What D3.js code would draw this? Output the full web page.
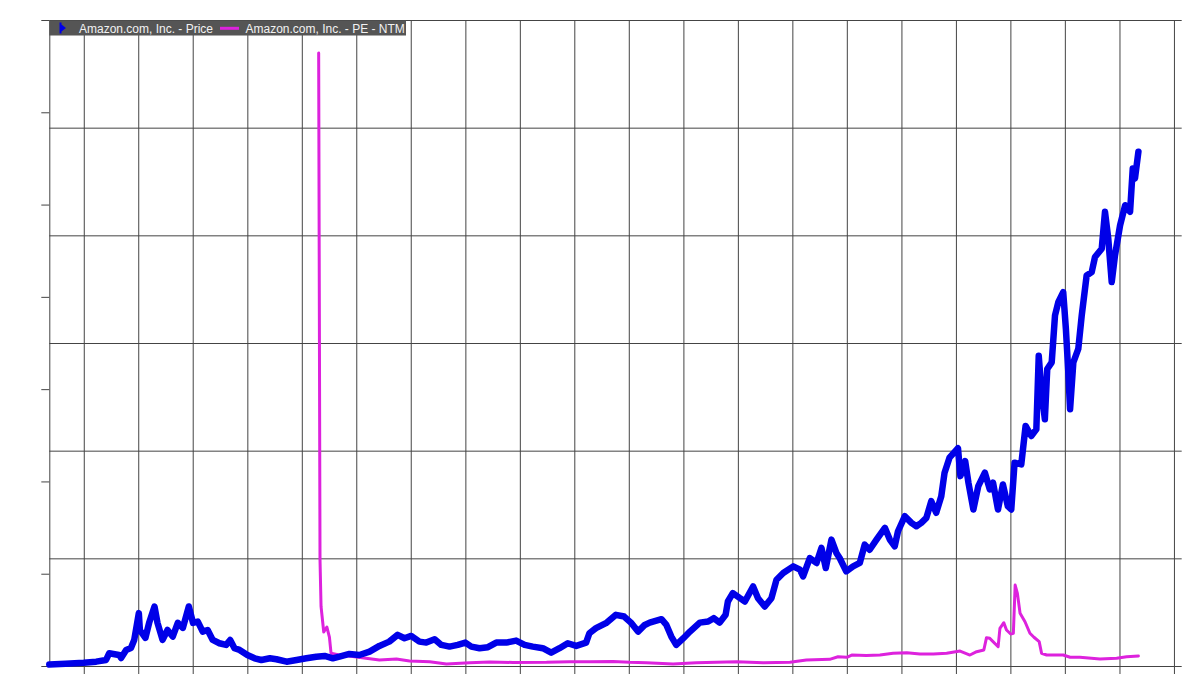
<!DOCTYPE html>
<html>
<head>
<meta charset="utf-8">
<script src="https://cdn.jsdelivr.net/npm/d3@7/dist/d3.min.js"></script>
<style>
  body { margin: 0; background: #fff; }
  svg { display: block; }
</style>
</head>
<body>
<script>
// values
var seriesNames = ["Amazon.com, Inc. - Price", "Amazon.com, Inc. - PE - NTM"];

var priceSeries = [
  ["1997-05-15", 3.3], ["1997-09-01", 5], ["1998-01-01", 7], ["1998-03-25", 9.4], ["1998-05-30", 13],
  ["1998-06-20", 27.6], ["1998-08-25", 24], ["1998-09-08", 17.4], ["1998-10-12", 34.8], ["1998-11-13", 39],
  ["1998-12-05", 56.5], ["1999-01-05", 114.6], ["1999-01-12", 78], ["1999-02-18", 61], ["1999-03-15", 93.5],
  ["1999-04-20", 129], ["1999-05-10", 93.5], ["1999-06-13", 56.5], ["1999-07-16", 78], ["1999-08-20", 63.7],
  ["1999-09-23", 93.5], ["1999-10-27", 82.6], ["1999-12-06", 129], ["2000-01-03", 93.5], ["2000-02-04", 96.3],
  ["2000-03-08", 74.6], ["2000-04-10", 78], ["2000-05-14", 56.5], ["2000-06-28", 49.3], ["2000-08-12", 45.7],
  ["2000-09-08", 56.5], ["2000-10-07", 38.5], ["2000-11-10", 34.8], ["2001-01-01", 23.9], ["2001-02-19", 16.7],
  ["2001-04-05", 13], ["2001-06-01", 16.7], ["2001-07-15", 14.6], ["2001-09-21", 9.3], ["2001-11-27", 13],
  ["2002-02-01", 16.7], ["2002-04-08", 20.2], ["2002-06-03", 21.7], ["2002-07-28", 16.7], ["2002-09-10", 20.2],
  ["2002-11-16", 26.1], ["2003-01-22", 23.9], ["2003-03-31", 31.1], ["2003-06-05", 43.5], ["2003-08-10", 52.8],
  ["2003-10-05", 67.4], ["2003-11-20", 60.2], ["2004-01-04", 65.2], ["2004-02-28", 52.8], ["2004-04-14", 50.7],
  ["2004-06-09", 58], ["2004-07-24", 45.7], ["2004-09-17", 42], ["2004-11-11", 45.7], ["2005-01-01", 50.7],
  ["2005-02-10", 42], ["2005-04-06", 38.5], ["2005-06-01", 40.7], ["2005-07-27", 50.7], ["2005-10-02", 50.7],
  ["2005-12-07", 55], ["2006-02-02", 45.7], ["2006-03-29", 42], ["2006-06-04", 38.5], ["2006-07-30", 28.9],
  ["2006-09-24", 38.5], ["2006-11-18", 49.3], ["2007-01-14", 43.5], ["2007-03-21", 50.7], ["2007-04-12", 71],
  ["2007-05-26", 82], ["2007-08-01", 92.8], ["2007-10-07", 110.9], ["2007-12-01", 107.2], ["2008-01-19", 92.8],
  ["2008-03-03", 74.6], ["2008-04-17", 89], ["2008-05-20", 94], ["2008-08-07", 101.5], ["2008-09-09", 89],
  ["2008-10-12", 63.7], ["2008-11-14", 45.7], ["2009-01-01", 60.2], ["2009-02-14", 74.6], ["2009-04-21", 94],
  ["2009-06-16", 96.3], ["2009-07-23", 103.7], ["2009-09-01", 94], ["2009-10-11", 110.9], ["2009-10-26", 139.8],
  ["2009-11-28", 158], ["2010-01-15", 147], ["2010-02-17", 139.8], ["2010-04-13", 172.4], ["2010-05-16", 147],
  ["2010-06-30", 129], ["2010-08-14", 147], ["2010-09-17", 187], ["2010-11-01", 201.5], ["2011-01-07", 215.9],
  ["2011-02-21", 208.7], ["2011-03-14", 194.1], ["2011-04-28", 234], ["2011-06-12", 223.3], ["2011-07-15", 255.9],
  ["2011-08-13", 212.4], ["2011-09-20", 273.9], ["2011-10-23", 245], ["2011-11-14", 234], ["2011-12-28", 205],
  ["2012-02-12", 215.9], ["2012-03-28", 223.3], ["2012-04-30", 263], ["2012-06-02", 252], ["2012-07-18", 273.9],
  ["2012-09-12", 299.4], ["2012-10-15", 273.9], ["2012-11-17", 259.4], ["2012-12-09", 292], ["2013-01-24", 324.6],
  ["2013-03-09", 310.2], ["2013-04-11", 302.8], ["2013-05-14", 310.2], ["2013-06-17", 321.1], ["2013-07-20", 357.2],
  ["2013-08-22", 332], ["2013-09-25", 368], ["2013-10-17", 419], ["2013-11-19", 451.5], ["2014-01-15", 471.8],
  ["2014-01-31", 411.5], ["2014-03-04", 444.2], ["2014-03-26", 397.2], ["2014-04-28", 339.1], ["2014-05-31", 389.8],
  ["2014-07-14", 419], ["2014-08-16", 382.6], ["2014-09-07", 397.2], ["2014-10-10", 339.1], ["2014-11-12", 393.5],
  ["2014-12-15", 346.3], ["2015-01-07", 339.1], ["2015-01-29", 440.7], ["2015-03-15", 437], ["2015-04-13", 520.2],
  ["2015-05-21", 498.5], ["2015-06-24", 513], ["2015-07-10", 672.4], ["2015-07-27", 600], ["2015-08-20", 534.8],
  ["2015-09-05", 643.5], ["2015-10-05", 658.1], ["2015-10-27", 759.4], ["2015-11-18", 788.5], ["2015-12-21", 810.3],
  ["2016-01-08", 730.5], ["2016-01-23", 643.5], ["2016-02-05", 556.5], ["2016-02-27", 658.1], ["2016-03-31", 687],
  ["2016-04-23", 759.4], ["2016-05-26", 846.3], ["2016-06-29", 853.7], ["2016-07-21", 886.3], ["2016-09-04", 904.4],
  ["2016-09-26", 984.2], ["2016-10-18", 926.1], ["2016-11-10", 832], ["2016-12-02", 889.8], ["2017-01-05", 955],
  ["2017-02-08", 998.5], ["2017-03-13", 984.2], ["2017-03-31", 1078.3], ["2017-04-15", 1056.6], ["2017-05-08", 1114.6]
];

var peSeries = [
  ["2002-04-24", 5693], ["2002-05-03", 985], ["2002-05-10", 551], ["2002-05-28", 316], ["2002-06-18", 362],
  ["2002-07-05", 269], ["2002-07-16", 118], ["2002-09-09", 102], ["2002-11-13", 93], ["2003-03-07", 72],
  ["2003-06-05", 56], ["2003-09-27", 65], ["2003-12-24", 46], ["2004-05-07", 40], ["2004-08-27", 19],
  ["2005-01-31", 31], ["2005-06-13", 37], ["2005-11-16", 33], ["2006-06-29", 34], ["2006-12-01", 40],
  ["2007-04-14", 40], ["2007-09-16", 42], ["2008-01-07", 34], ["2008-04-28", 31], ["2008-10-24", 19],
  ["2009-03-28", 31], ["2009-12-24", 40], ["2010-06-20", 31], ["2010-12-16", 34], ["2011-04-05", 56],
  ["2011-09-08", 62], ["2011-11-03", 86], ["2012-01-01", 81], ["2012-02-03", 102], ["2012-05-11", 98],
  ["2012-08-10", 102], ["2012-11-06", 118], ["2013-02-06", 124], ["2013-05-05", 111], ["2013-08-03", 111],
  ["2013-10-31", 118], ["2014-01-29", 139], ["2014-04-05", 102], ["2014-05-20", 133], ["2014-07-07", 149],
  ["2014-07-25", 263], ["2014-08-16", 257], ["2014-10-11", 179], ["2014-10-23", 350], ["2014-11-18", 402],
  ["2014-12-06", 334], ["2015-01-03", 297], ["2015-01-21", 304], ["2015-02-02", 752], ["2015-02-17", 675],
  ["2015-03-07", 489], ["2015-04-09", 411], ["2015-05-12", 304], ["2015-06-08", 267], ["2015-07-13", 226],
  ["2015-07-29", 118], ["2015-09-01", 102], ["2015-12-21", 102], ["2016-02-05", 81], ["2016-04-11", 81],
  ["2016-08-23", 65], ["2016-12-13", 72], ["2017-02-18", 86], ["2017-05-08", 93]
];

var yearTicks = [1998, 1999, 2000, 2001, 2002, 2003, 2004, 2005, 2006, 2007, 2008,
                 2009, 2010, 2011, 2012, 2013, 2014, 2015, 2016, 2017, 2018];
var priceTicks = [0, 200, 400, 600, 800, 1000, 1200, 1400];
var peTicks = [0, 1000, 2000, 3000, 4000, 5000, 6000];

var w = 1201, h = 695;
// plot box (named so they don't clash with window.top etc.)
var plotL = 49.3, plotR = 1181.7, plotT = 20, plotB = 666;
var gridColor = "#444";
var colors = ["#0000e8", "#dd22dd"];
var parse = d3.timeParse("%Y-%m-%d");

var svg = d3.select("body").append("svg").attr("width", w).attr("height", h);

var x = d3.scaleTime()
    .domain([parse("1997-05-15"), parse("2018-02-22")])
    .range([plotL, plotR]);
var yLeft = d3.scaleLinear().domain([0, 1400]).range([plotB, plotT]);
var yRight = d3.scaleLinear().domain([0, 6000]).range([plotB, plotT]);

// horizontal grid from the right axis (labels are white, as in the source)
var rightAxis = svg.append("g")
    .attr("transform", "translate(" + plotR + ",0)")
    .call(d3.axisRight(yRight).tickValues(peTicks).tickFormat(d3.format("~s"))
        .tickSize(-(plotR - plotL)).tickPadding(4));
rightAxis.select(".domain").remove();
rightAxis.selectAll("line").attr("stroke", gridColor);
rightAxis.selectAll("text").attr("fill", "#fff").style("font", "9px Arial");

// vertical grid + x ticks
var xAxis = svg.append("g")
    .attr("transform", "translate(0," + plotB + ")")
    .call(d3.axisBottom(x)
        .tickValues(yearTicks.map(function (yr) { return new Date(yr, 0, 1); }))
        .tickFormat(d3.timeFormat("%Y"))
        .tickSizeInner(8)
        .tickSizeOuter(0));
xAxis.select(".domain").remove();
xAxis.selectAll("line").attr("stroke", gridColor).attr("y1", -(plotB - plotT));
xAxis.selectAll("text").attr("fill", "#fff").style("font", "10px Arial");

// left axis
var leftAxis = svg.append("g")
    .attr("transform", "translate(" + plotL + ",0)")
    .call(d3.axisLeft(yLeft).tickValues(priceTicks).tickSizeInner(8).tickSizeOuter(0));
leftAxis.select(".domain").attr("stroke", gridColor);
leftAxis.selectAll("line").attr("stroke", gridColor);
leftAxis.selectAll("text").attr("fill", "#fff").style("font", "10px Arial");

var pe = peSeries.map(function (d) { return { date: parse(d[0]), v: d[1] }; });
var price = priceSeries.map(function (d) { return { date: parse(d[0]), v: d[1] }; });

svg.append("path")
    .datum(pe)
    .attr("fill", "none")
    .attr("stroke", colors[1])
    .attr("stroke-width", 3)
    .attr("stroke-linejoin", "round")
    .attr("stroke-linecap", "round")
    .attr("d", d3.line().x(function (d) { return x(d.date); }).y(function (d) { return yRight(d.v); }));

svg.append("path")
    .datum(price)
    .attr("fill", "none")
    .attr("stroke", colors[0])
    .attr("stroke-width", 6.5)
    .attr("stroke-linejoin", "round")
    .attr("stroke-linecap", "round")
    .attr("d", d3.line().x(function (d) { return x(d.date); }).y(function (d) { return yLeft(d.v); }));

// legend
var legend = svg.append("g");
legend.append("rect")
    .attr("x", plotL).attr("y", plotT + 0.5)
    .attr("width", 406 - plotL).attr("height", 15)
    .attr("fill", "#555");
legend.append("path")
    .attr("d", "M59.5,22.5 L61.5,22.5 L61.5,24.5 L66,28 L61.5,31.5 L61.5,33.5 L59.5,33.5 Z")
    .attr("fill", colors[0]);
legend.append("text")
    .attr("x", 79).attr("y", 32.5)
    .attr("fill", "#f2f2f2")
    .style("font", "12px Arial, 'Liberation Sans', sans-serif")
    .text(seriesNames[0]);
legend.append("line")
    .attr("x1", 220).attr("x2", 239).attr("y1", 28.3).attr("y2", 28.3)
    .attr("stroke", colors[1]).attr("stroke-width", 3);
legend.append("text")
    .attr("x", 245.5).attr("y", 32.5)
    .attr("fill", "#f2f2f2")
    .style("font", "12px Arial, 'Liberation Sans', sans-serif")
    .text(seriesNames[1]);
</script>
</body>
</html>
